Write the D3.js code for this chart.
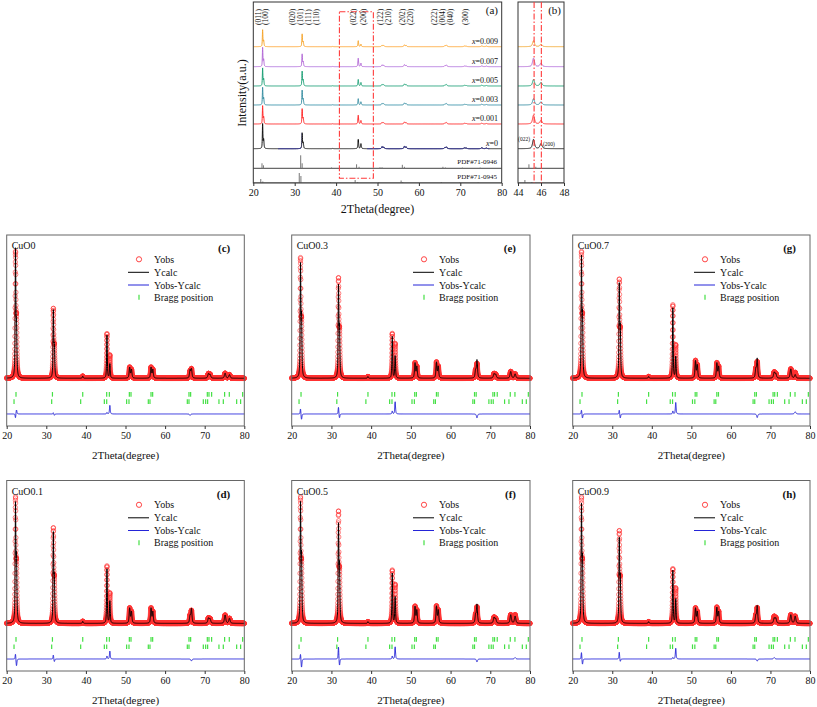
<!DOCTYPE html>
<html><head><meta charset="utf-8">
<script src="https://cdn.jsdelivr.net/npm/d3@7"></script>
<style>
body{margin:0;background:#fff}
svg{display:block}
text{font-family:"Liberation Serif","Times New Roman",serif;fill:#111}
</style>
</head><body>
<svg id="chart" width="817" height="707"></svg>
<script>
// ---------------- DATA ----------------
const xTicks = [20, 30, 40, 50, 60, 70, 80];
const zoomTicks = [44, 46, 48];

// panel (a): stacked patterns, peak positions (2θ), FWHM and heights for each x
const stackLabels = ["x=0", "x=0.001", "x=0.003", "x=0.005", "x=0.007", "x=0.009"];
const stackPeakPos  = [22.25, 22.5, 31.8, 32.05, 39.2, 45.35, 46.0, 51.1, 51.5, 56.5, 56.9, 66.3, 66.65, 71.0, 71.4, 75.2, 76.3];
const stackPeakFwhm = [0.15, 0.2, 0.16, 0.22, 0.25, 0.2, 0.22, 0.3, 0.3, 0.3, 0.3, 0.32, 0.32, 0.4, 0.4, 0.4, 0.4];
const stackI_x0     = [24.7, 9, 15.3, 6, 0.3, 9.3, 5, 2, 1.6, 2.3, 1.8, 1.2, 1.7, 0.7, 0.6, 0.9, 0.6];
const stackI_x0001  = [18, 7, 14.7, 6, 0.3, 8.8, 3.5, 1.6, 1.3, 2, 1.5, 1, 1.5, 0.6, 0.5, 0.8, 0.5];
const stackI_x0003  = [17.3, 7, 14.3, 6, 0.3, 6.3, 3.2, 1.6, 1.3, 2, 1.5, 1, 1.5, 0.6, 0.5, 0.8, 0.5];
const stackI_x0005  = [17.7, 7, 14.3, 6, 0.3, 6.5, 3.5, 1.6, 1.3, 2, 1.5, 1, 1.5, 0.6, 0.5, 0.8, 0.5];
const stackI_x0007  = [19, 7, 12.3, 5, 0.3, 8.5, 3.5, 1.8, 1.4, 2, 1.5, 1, 1.7, 0.6, 0.5, 0.8, 0.6];
const stackI_x0009  = [16.7, 6, 12.3, 5, 0.3, 6, 2.5, 1.5, 1.2, 1.8, 1.4, 1, 1.6, 0.6, 0.5, 0.8, 0.6];

// reference patterns (stick positions, heights)
const pdf0946Pos = [22.1, 22.45, 31.45, 31.8, 38.9, 44.95, 45.55, 50.6, 51.1, 56.0, 56.5, 65.8, 66.4, 70.5, 74.8];
const pdf0946I   = [5, 3, 13, 5, 0.8, 4, 1.5, 1, 1, 3.5, 1.5, 1.5, 0.8, 0.7, 0.7];
const pdf0945Pos = [21.8, 22.3, 31.1, 31.5, 38.6, 44.6, 45.2, 50.3, 55.7, 56.1, 65.4, 69.9, 74.3];
const pdf0945I   = [4, 1.5, 10, 7, 0.7, 3, 1, 0.8, 2.5, 1, 1, 0.6, 0.6];

const hklLabels = ["(011)","(100)","(020)","(101)","(111)","(110)","(022)","(200)","(122)","(210)","(202)","(220)","(222)","(004)","(040)","(300)"];
const hklPos    = [21.2, 22.8, 29.3, 31.3, 33.3, 35.1, 44.2, 46.4, 50.6, 52.5, 55.8, 57.9, 63.6, 65.5, 67.5, 71.1];

// Rietveld panels
const rietNames   = ["CuO0", "CuO0.1", "CuO0.3", "CuO0.5", "CuO0.7", "CuO0.9"];
const rietLetters = ["(c)", "(d)", "(e)", "(f)", "(g)", "(h)"];
const rietPeakPos  = [22.22, 22.47, 31.78, 32.03, 39.2, 45.32, 46.05, 51.05, 51.5, 56.45, 56.9, 66.3, 66.65, 70.95, 71.35, 75.15, 76.25];
const rietPeakFwhm = [0.2, 0.25, 0.2, 0.25, 0.25, 0.2, 0.22, 0.3, 0.3, 0.3, 0.3, 0.32, 0.32, 0.4, 0.4, 0.4, 0.4];
const obs_CuO0   = [83, 38, 46, 20, 1.5, 31, 16, 7.5, 6, 7.5, 6, 4.5, 6.3, 3, 2.5, 3.5, 2.5];
const calc_CuO0  = [86, 35, 45, 21, 1.5, 30, 10, 7.5, 6, 7.5, 6, 5.5, 6.3, 3, 2.5, 3.5, 2.5];
const obs_CuO01  = [83, 38, 63, 28, 1.5, 40, 21, 10.5, 8, 10.5, 8, 5, 8.6, 3.5, 3, 5.8, 3.5];
const calc_CuO01 = [79, 43, 60, 30, 1.5, 38, 15.5, 10.5, 8, 10.5, 8, 5, 10, 3.5, 3, 5.8, 3.5];
const obs_CuO03  = [79, 36, 66, 30, 1.2, 31, 24, 10.5, 8, 11, 8, 5, 9.8, 3, 2.5, 4.7, 3];
const calc_CuO03 = [75, 40, 61, 33, 1.2, 29, 15.5, 10.5, 8, 11, 8, 5, 12.5, 3, 2.5, 4.7, 3];
const obs_CuO05  = [83, 38, 74, 33, 1.2, 37, 27, 11.6, 9, 11.8, 9, 5.5, 11, 4, 3, 6, 6];
const calc_CuO05 = [79, 44, 65, 38, 1.2, 35, 18.5, 11.6, 9, 11.8, 9, 5.5, 13, 4, 3, 6, 5];
const obs_CuO07  = [83, 38, 65, 30, 1.2, 51, 23, 12, 9, 10.5, 8, 6, 11, 4, 3, 6.5, 4];
const calc_CuO07 = [80, 41, 62, 33, 1.2, 49, 15, 12, 9, 10.5, 8, 6, 13.5, 4, 3, 6.5, 2.5];
const obs_CuO09  = [83, 38, 61, 28, 1.2, 38, 24.5, 10.5, 8, 11, 8, 5, 10.5, 4.5, 3.5, 6, 5];
const calc_CuO09 = [78, 42, 56, 30, 1.2, 37, 17, 10.5, 8, 11, 8, 5, 12, 3.5, 3.5, 6, 5];

const braggPhase1 = [22.35, 31.55, 39.2, 45.25, 45.92, 50.97, 51.39, 56.44, 56.86, 66.03, 66.45, 70.66, 71.08, 71.75, 75.03, 76.21, 79.58];
const braggPhase2 = [21.85, 31.36, 38.68, 44.66, 45.25, 50.29, 50.88, 55.76, 56.18, 65.61, 66.03, 69.65, 70.24, 70.74, 73.6, 74.7, 78.07, 79.07];

const legendLabels = ["Yobs", "Ycalc", "Yobs-Ycalc", "Bragg position"];

// ---------------- HELPERS ----------------
function pv(x, pos, h, fw) {
  const d = (x - pos) / (fw / 2);
  return h * (0.6 / (1 + d * d) + 0.4 * Math.exp(-Math.LN2 * d * d));
}
function profile(grid, pos, fw, hts) {
  return grid.map(x => {
    let s = 0;
    for (let i = 0; i < pos.length; i++) s += pv(x, pos[i], hts[i], fw[i]);
    return [x, s];
  });
}

const svg = d3.select("#chart");

// ---------------- PANEL (a) ----------------
const A = {x0: 253.3, x1: 501.7, y0: 2, y1: 183};
const aX = d3.scaleLinear().domain([20, 80]).range([A.x0, A.x1]);
const aY = d3.scaleLinear().domain([0, 181]).range([A.y1, A.y0]);
const bX = d3.scaleLinear().domain([44, 48]).range([518, 564]);

const stackSeries = [stackI_x0, stackI_x0001, stackI_x0003, stackI_x0005, stackI_x0007, stackI_x0009];
const stackOffsets = [34.3, 59, 78, 97, 116.3, 136.3];
const pdfOffsets = [14.7, 0];
const stackColors = ["#111111", "#ff2b2b", "#3a8fa3", "#1fa077", "#b36ad6", "#f5a52e"];

const defs = svg.append("defs");
defs.append("clipPath").attr("id", "clipA").append("rect")
  .attr("x", A.x0).attr("y", A.y0).attr("width", A.x1 - A.x0).attr("height", A.y1 - A.y0);
defs.append("clipPath").attr("id", "clipB").append("rect")
  .attr("x", 518).attr("y", A.y0).attr("width", 46).attr("height", A.y1 - A.y0);
defs.append("clipPath").attr("id", "clipBlue").selectAll("rect")
  .data([[26, 31.6], [47.5, 77]]).join("rect")
  .attr("x", d => aX(d[0])).attr("y", 0).attr("width", d => aX(d[1]) - aX(d[0])).attr("height", 183);

const gridA = d3.range(20, 80.0001, 0.02);
const gridB = d3.range(44, 48.0001, 0.01);

function drawStack(g, xs, grid, clip) {
  const gg = g.append("g").attr("clip-path", `url(#${clip})`);
  [[pdf0946Pos, pdf0946I], [pdf0945Pos, pdf0945I]].forEach((p, k) => {
    const off = pdfOffsets[k];
    gg.append("line").attr("x1", xs.range()[0]).attr("x2", xs.range()[1])
      .attr("y1", aY(off)).attr("y2", aY(off)).attr("stroke", "#444").attr("stroke-width", 1);
    gg.selectAll(null).data(p[0]).join("line")
      .attr("x1", d => xs(d)).attr("x2", d => xs(d))
      .attr("y1", aY(off)).attr("y2", (d, i) => aY(off + p[1][i]))
      .attr("stroke", "#777").attr("stroke-width", 1);
  });
  stackSeries.forEach((hts, k) => {
    const prof = profile(grid, stackPeakPos, stackPeakFwhm, hts);
    const line = d3.line().x(d => xs(d[0])).y(d => aY(d[1] + stackOffsets[k]));
    gg.append("path").attr("d", line(prof)).attr("fill", "none")
      .attr("stroke", stackColors[k]).attr("stroke-width", 1);
    if (k === 0 && clip === "clipA") {
      gg.append("path").attr("d", line(prof)).attr("fill", "none")
        .attr("clip-path", "url(#clipBlue)")
        .attr("stroke", "#3a3aa8").attr("stroke-width", 1);
    }
  });
}
const gA = svg.append("g");
drawStack(gA, aX, gridA, "clipA");
const gB = svg.append("g");
drawStack(gB, bX, gridB, "clipB");

gA.append("rect").attr("x", A.x0).attr("y", A.y0).attr("width", A.x1 - A.x0).attr("height", A.y1 - A.y0)
  .attr("fill", "none").attr("stroke", "#333").attr("stroke-width", 1);
gB.append("rect").attr("x", 518).attr("y", A.y0).attr("width", 46).attr("height", A.y1 - A.y0)
  .attr("fill", "none").attr("stroke", "#333").attr("stroke-width", 1);

function styleAxis(sel, fs) {
  sel.select(".domain").remove();
  sel.selectAll(".tick line").attr("stroke", "#333");
  sel.selectAll(".tick text").attr("font-size", fs).attr("fill", "#111")
    .attr("font-family", '"Liberation Serif","Times New Roman",serif');
}
gA.append("g").attr("transform", `translate(0,${A.y1})`)
  .call(d3.axisBottom(aX).tickValues(xTicks).tickFormat(d3.format("d")).tickSize(3).tickPadding(3))
  .call(s => styleAxis(s, 10));
gB.append("g").attr("transform", `translate(0,${A.y1})`)
  .call(d3.axisBottom(bX).tickValues(zoomTicks).tickFormat(d3.format("d")).tickSize(3).tickPadding(3))
  .call(s => styleAxis(s, 10));

gA.append("rect").attr("x", aX(40.8)).attr("y", 11.7).attr("width", aX(49.0) - aX(40.8)).attr("height", 178.3 - 11.7)
  .attr("fill", "none").attr("stroke", "#ff3a3a").attr("stroke-width", 1.1).attr("stroke-dasharray", "6,2,1.5,2");
[45.4, 46.03].forEach(v => {
  gB.append("line").attr("x1", bX(v)).attr("x2", bX(v)).attr("y1", A.y0).attr("y2", A.y1)
    .attr("stroke", "#ff3a3a").attr("stroke-width", 1.1).attr("stroke-dasharray", "6,2,1.5,2");
});

gA.selectAll(null).data(hklLabels).join("text")
  .attr("transform", (d, i) => `translate(${aX(hklPos[i]) + 3},25) rotate(-90)`)
  .attr("font-size", 7.5).attr("fill", "#222").text(d => d);

stackLabels.forEach((lab, k) => {
  const t = gA.append("text").attr("x", 498).attr("y", aY(stackOffsets[k]) - 3)
    .attr("text-anchor", "end").attr("font-size", 8).attr("fill", "#2b2b5a");
  t.append("tspan").attr("font-style", "italic").text("x");
  t.append("tspan").text(lab.slice(1));
});
gA.append("text").attr("x", 497).attr("y", aY(pdfOffsets[0]) - 4).attr("text-anchor", "end")
  .attr("font-size", 7).attr("fill", "#333").text("PDF#71-0946");
gA.append("text").attr("x", 497).attr("y", aY(pdfOffsets[1]) - 4).attr("text-anchor", "end")
  .attr("font-size", 7).attr("fill", "#333").text("PDF#71-0945");
gA.append("text").attr("x", 498).attr("y", 14).attr("text-anchor", "end").attr("font-size", 11).text("(a)");
gB.append("text").attr("x", 561).attr("y", 14).attr("text-anchor", "end").attr("font-size", 11).text("(b)");
gB.append("text").attr("x", 530).attr("y", 141).attr("text-anchor", "end").attr("font-size", 5.5).text("(022)");
gB.append("text").attr("x", 543).attr("y", 146).attr("font-size", 5.5).text("(200)");

gA.append("text").attr("transform", `translate(246,93) rotate(-90)`).attr("text-anchor", "middle")
  .attr("font-size", 12).text("Intensity(a.u.)");
gA.append("text").attr("x", (A.x0 + A.x1) / 2).attr("y", 213).attr("text-anchor", "middle")
  .attr("font-size", 12).text("2Theta(degree)");

// ---------------- RIETVELD PANELS ----------------
const obsSeries  = [obs_CuO0, obs_CuO01, obs_CuO03, obs_CuO05, obs_CuO07, obs_CuO09];
const calcSeries = [calc_CuO0, calc_CuO01, calc_CuO03, calc_CuO05, calc_CuO07, calc_CuO09];
const colX = [[6.7, 244.3], [291.7, 530], [572.7, 810]];
const rowY = [[235, 426], [480.5, 671]];
const panelCell = [[0, 0], [0, 1], [1, 0], [1, 1], [2, 0], [2, 1]];
const gridR = d3.range(20, 80.0001, 0.015);

panelCell.forEach((cell, p) => {
  const [cx, ry] = cell;
  const x0 = colX[cx][0], x1 = colX[cx][1], y0 = rowY[ry][0], y1 = rowY[ry][1];
  const xs = d3.scaleLinear().domain([20, 80]).range([x0, x1]);
  const ys = d3.scaleLinear().domain([-33.3, 100]).range([y1, y0]);
  const g = svg.append("g");
  const obs = profile(gridR, rietPeakPos, rietPeakFwhm, obsSeries[p]);
  const calc = profile(gridR, rietPeakPos, rietPeakFwhm, calcSeries[p]);
  const diff = obs.map((d, i) => [d[0], d[1] - calc[i][1]]);

  g.append("g").selectAll("circle").data(obs).join("circle")
    .attr("cx", d => xs(d[0])).attr("cy", d => ys(d[1])).attr("r", 2.2)
    .attr("fill", "none").attr("stroke", "#ff3030").attr("stroke-opacity", 0.75).attr("stroke-width", 0.8);
  g.append("path").attr("d", d3.line().x(d => xs(d[0])).y(d => ys(d[1]))(calc))
    .attr("fill", "none").attr("stroke", "#000").attr("stroke-width", 1);
  [[braggPhase1, -11.2], [braggPhase2, -16.3]].forEach(([arr, lvl]) => {
    g.selectAll(null).data(arr).join("line")
      .attr("x1", d => xs(d)).attr("x2", d => xs(d))
      .attr("y1", ys(lvl) - 2.3).attr("y2", ys(lvl) + 2.3)
      .attr("stroke", "#44e044").attr("stroke-width", 1.2);
  });
  g.append("path").attr("d", d3.line().x(d => xs(d[0])).y(d => ys(d[1] - 24.9))(diff))
    .attr("fill", "none").attr("stroke", "#2424d8").attr("stroke-width", 1);

  g.append("rect").attr("x", x0).attr("y", y0).attr("width", x1 - x0).attr("height", y1 - y0)
    .attr("fill", "none").attr("stroke", "#666").attr("stroke-width", 1);
  g.append("g").attr("transform", `translate(0,${y1})`)
    .call(d3.axisBottom(xs).tickValues(xTicks).tickFormat(d3.format("d")).tickSize(3).tickPadding(3))
    .call(s => styleAxis(s, 10));
  g.append("text").attr("x", (x0 + x1) / 2).attr("y", y1 + 33).attr("text-anchor", "middle")
    .attr("font-size", 11).text("2Theta(degree)");
  g.append("text").attr("x", x0 + 5).attr("y", y0 + 14).attr("font-size", 10).text(rietNames[p]);
  g.append("text").attr("x", x1 - 14).attr("y", y0 + 17).attr("text-anchor", "end")
    .attr("font-size", 11).attr("font-weight", "bold").text(rietLetters[p]);

  const lx = x0 + 132.3, tx = x0 + 147.3;
  const ly = [24.3, 37.3, 50, 62.3].map(v => y0 + v);
  g.append("circle").attr("cx", lx).attr("cy", ly[0]).attr("r", 2.6)
    .attr("fill", "none").attr("stroke", "#ff3030").attr("stroke-width", 0.9);
  g.append("line").attr("x1", lx - 11).attr("x2", lx + 10).attr("y1", ly[1]).attr("y2", ly[1])
    .attr("stroke", "#000").attr("stroke-width", 1);
  g.append("line").attr("x1", lx - 11).attr("x2", lx + 10).attr("y1", ly[2]).attr("y2", ly[2])
    .attr("stroke", "#2424d8").attr("stroke-width", 1);
  g.append("line").attr("x1", lx).attr("x2", lx).attr("y1", ly[3] - 2.5).attr("y2", ly[3] + 2.5)
    .attr("stroke", "#44e044").attr("stroke-width", 1.2);
  legendLabels.forEach((t, i) => {
    g.append("text").attr("x", tx).attr("y", ly[i] + 3.5).attr("font-size", 10).text(t);
  });
});
</script>
</body></html>
